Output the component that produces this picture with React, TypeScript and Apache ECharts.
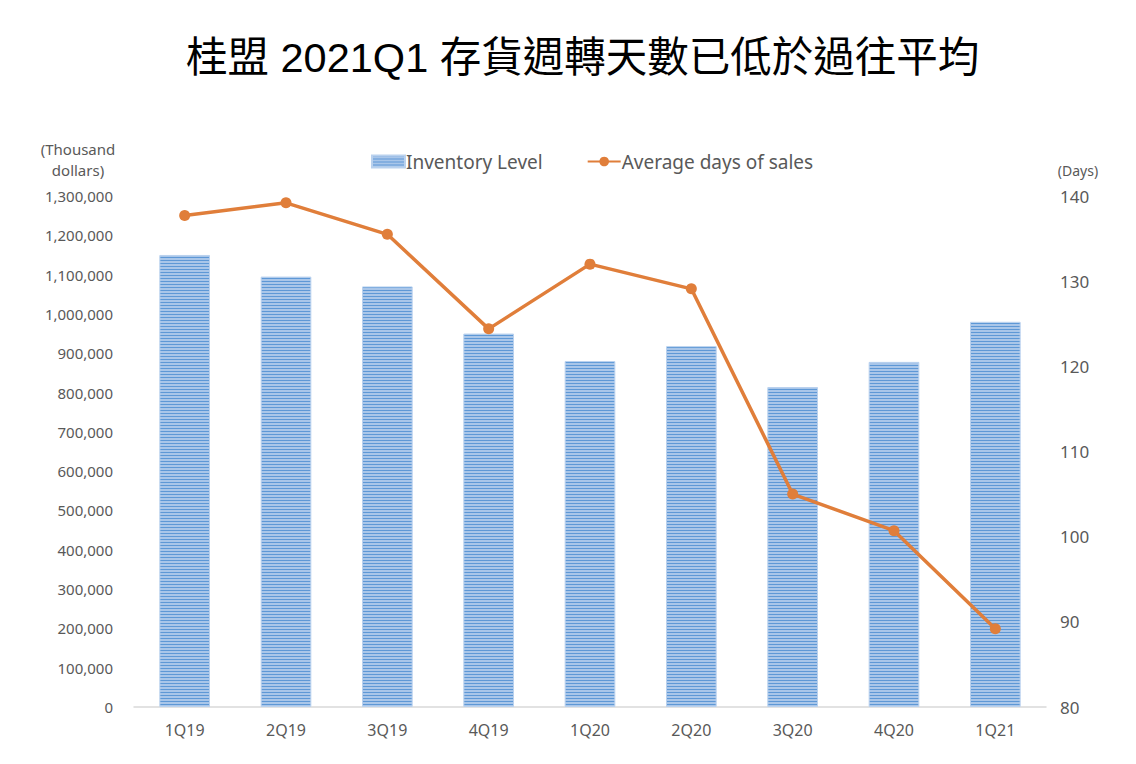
import React, { useEffect, useRef } from "react";
import * as echarts from "echarts";

const categories = ["1Q19", "2Q19", "3Q19", "4Q19", "1Q20", "2Q20", "3Q20", "4Q20", "1Q21"];
const inventoryLevel = [1150000, 1095000, 1070000, 950000, 880000, 918000, 814000, 878000, 980000];
const avgDaysOfSales = [137.7, 139.2, 135.5, 124.4, 132.0, 129.1, 105.0, 100.7, 89.2];
const leftTicks = { min: 0, max: 1300000, interval: 100000 };
const rightTicks = { min: 80, max: 140, interval: 10 };

function makeStripe(): string {
  const c = document.createElement("canvas");
  c.width = 4;
  c.height = 3;
  const ctx = c.getContext("2d")!;
  ctx.fillStyle = "#a9c6e9";
  ctx.fillRect(0, 0, 4, 3);
  ctx.fillStyle = "#5e98d6";
  ctx.fillRect(0, 0, 4, 1);
  return c.toDataURL();
}

export default function App() {
  const ref = useRef<HTMLDivElement>(null);
  useEffect(() => {
    if (!ref.current) return;
    const chart = echarts.init(ref.current, null, { renderer: "svg" });
    const stripe = { image: makeStripe(), repeat: "repeat" } as any;
    const font = "'Noto Sans', sans-serif";
    chart.setOption({
      animation: false,
      backgroundColor: "#ffffff",
      title: {
        text: "桂盟 2021Q1 存貨週轉天數已低於過往平均",
        left: 173,
        top: 24,
        textStyle: {
          fontFamily: "'Liberation Sans', 'Noto Sans CJK TC', sans-serif",
          fontSize: 41.5,
          fontWeight: "normal",
          color: "#000000",
        },
      },
      legend: {
        top: 139,
        left: 358,
        itemGap: 44,
        itemWidth: 33,
        itemHeight: 12,
        textStyle: { fontFamily: font, fontSize: 19, color: "#595959", padding: [0, 0, 0, -4] },
        data: [
          { name: "Inventory Level", icon: "rect" },
          { name: "Average days of sales" },
        ],
      },
      grid: { left: 126, right: 82, top: 188, bottom: 49, containLabel: false },
      xAxis: {
        type: "category",
        data: categories,
        axisLine: { lineStyle: { color: "#d9d9d9", width: 1.5 } },
        axisTick: { show: false },
        axisLabel: { fontFamily: font, fontSize: 16, color: "#595959", margin: 15 },
      },
      yAxis: [
        {
          type: "value",
          min: leftTicks.min,
          max: leftTicks.max,
          interval: leftTicks.interval,
          name: "(Thousand\ndollars)",
          nameLocation: "end",
          nameGap: 16,
          nameTextStyle: { fontFamily: font, fontSize: 15, color: "#595959", align: "center", padding: [0, 0, 0, -112], lineHeight: 21 },
          splitLine: { show: false },
          axisLine: { show: false },
          axisTick: { show: false },
          axisLabel: {
            fontFamily: font,
            fontSize: 15,
            color: "#595959",
            margin: 21,
            formatter: (v: number) => v.toLocaleString("en-US"),
          },
        },
        {
          type: "value",
          min: rightTicks.min,
          max: rightTicks.max,
          interval: rightTicks.interval,
          name: "(Days)",
          nameLocation: "end",
          nameGap: 19,
          nameTextStyle: { fontFamily: font, fontSize: 14, color: "#595959", padding: [0, 0, 0, 64] },
          splitLine: { show: false },
          axisLine: { show: false },
          axisTick: { show: false },
          axisLabel: { fontFamily: font, fontSize: 17, color: "#595959", margin: 14 },
        },
      ],
      series: [
        {
          name: "Inventory Level",
          type: "bar",
          data: inventoryLevel,
          barWidth: "50%",
          itemStyle: { color: stripe, borderColor: "#b9d1ee", borderWidth: 1 },
          yAxisIndex: 0,
        },
        {
          name: "Average days of sales",
          type: "line",
          data: avgDaysOfSales,
          yAxisIndex: 1,
          symbol: "circle",
          symbolSize: 11,
          lineStyle: { color: "#e07e3a", width: 3.5 },
          itemStyle: { color: "#e07e3a" },
        },
      ],
    });
    return () => chart.dispose();
  }, []);
  return <div ref={ref} style={{ width: 1120, height: 748 }} />;
}
